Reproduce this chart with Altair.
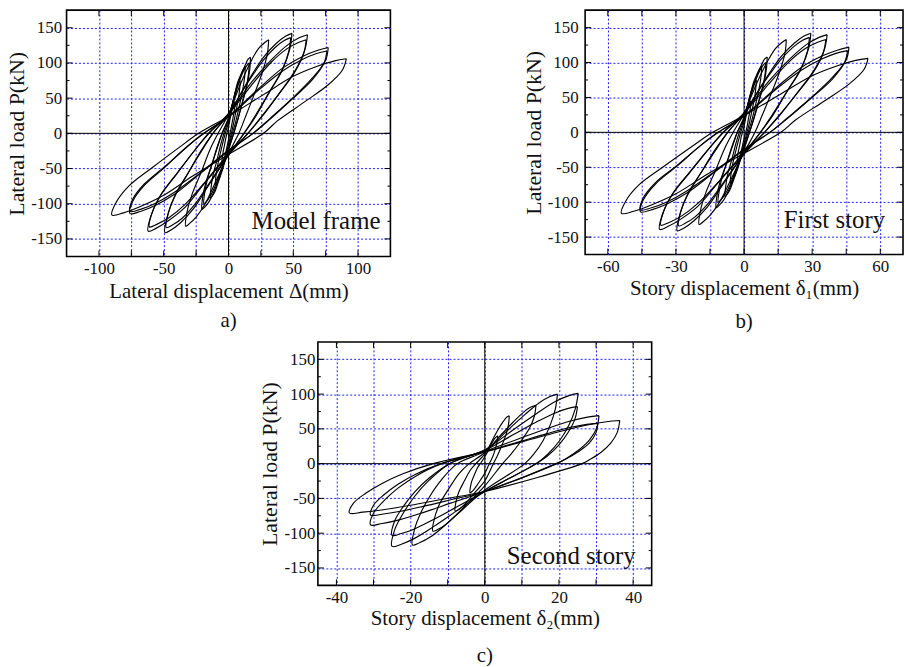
import altair as alt
import pandas as pd

FONT = "Liberation Serif"

# ---------------- panel a: model frame (lateral displacement, mm) ----------------
A_DISP = [
    [5, 4.9, 4.2, 3.2, 2.1, 1.2, 0, -1.5, -2.8, -3.8, -4.5, -5, -4.9, -4.2, -3.2, -2.1, -1.2, 0, 1.5, 2.8, 3.8, 4.5, 5],
    [9, 8.7, 7.6, 5.8, 3.8, 2.2, 0, -3, -5.5, -7.5, -9, -10, -9.7, -8.5, -6.5, -4.2, -2.5, 0, 2.7, 5, 6.8, 8.1, 9],
    [13, 12.5, 11, 8.5, 5.5, 3, 0, -4, -8, -10.5, -12.5, -14, -13.5, -12, -9, -6, -3.5, 0, 4, 7, 10, 11.7, 13],
    [17, 16.5, 14.5, 11, 7, 4, 0, -6, -11, -15, -18.5, -20.5, -20, -17.5, -13, -8.5, -5, 0, 5, 9.5, 13, 15, 17],
    [16, 15.5, 13.6, 10.4, 6.7, 4, 0, -5.7, -10.5, -14.3, -17.1, -19, -18.4, -16.2, -12.4, -8, -4.8, 0, 4.8, 8.8, 12, 14.4, 16],
    [31, 30, 26, 20, 13, 8, 0, -10, -18, -25, -30, -33, -32, -28, -21, -14, -8, 0, 9, 17, 23, 28, 31],
    [49, 47.5, 42, 32, 21, 12, 0, -15, -27, -37, -44, -49, -47.5, -42, -32, -21, -12, 0, 15, 27, 37, 44, 49],
    [48, 46.5, 41, 31, 20, 12, 0, -14.5, -26.5, -36, -43, -48, -46.5, -41, -31, -20, -12, 0, 14.5, 26.5, 36, 43, 48],
    [61, 59, 52, 40, 26, 15, 0, -19, -34, -47, -56, -62, -60, -53, -40, -26, -15.5, 0, 18, 34, 46, 55, 61],
    [60, 58, 51, 39, 25, 15, 0, -18, -33.5, -46, -55, -61, -59, -52, -39.5, -25.5, -15, 0, 18, 33, 45, 54, 60],
    [77, 75, 65, 50, 32, 19, 0, -23, -42, -57, -68, -76, -74, -65, -49, -32, -19, 0, 23, 42, 58, 69, 77],
    [76, 73.7, 64.6, 49.4, 32, 19, 0, -23, -42, -57, -68, -76, -74, -65, -49, -32, -19, 0, 23, 42, 57, 68, 76],
    [91, 88, 77, 59, 38, 27, 0, -27, -50, -68, -81, -90, -87, -77, -59, -38, -23, 0, 27, 50, 68, 82, 91],
]
# lateral load (kN), shared by panels a and b
LOAD_AB = [
    [45, 38, 29, 19, 7.7, 0, -9, -22, -32, -38, -41, -42, -36, -27, -18, -7, 0, 9, 23, 34, 40.5, 43.5, 45],
    [75, 64, 49, 31.5, 13, 0, -16, -37, -55, -65, -70, -72, -61, -47, -30, -12, 0, 15, 39, 57, 67.5, 73, 75],
    [95, 81, 62, 40, 16, 0, -20, -48, -70, -83, -89, -92, -78, -60, -39, -16, 0, 19, 49, 72, 85.5, 92, 95],
    [108, 92, 70, 45, 18, 0, -24, -56, -82, -97, -105, -108, -92, -70, -45, -18, 0, 22, 56, 82, 97, 105, 108],
    [100, 85, 65, 42, 17, 0, -22, -52, -76, -90, -97, -100, -85, -65, -42, -17, 0, 20, 52, 76, 90, 97, 100],
    [133, 113, 86, 56, 23, 0, -29, -69, -100, -119, -128, -132, -112, -86, -55, -22, 0, 27, 69, 101, 120, 129, 133],
    [142, 121, 92, 60, 24, 0, -31, -73, -107, -127, -137, -141, -120, -92, -59, -24, 0, 28, 74, 108, 128, 138, 142],
    [136, 116, 88, 57, 23, 0, -30, -70, -102, -121, -130, -134, -114, -87, -56, -23, 0, 27, 71, 103, 122, 132, 136],
    [140, 119, 91, 59, 24, 0, -31, -72, -106, -125, -135, -139, -118, -90, -58, -24, 0, 28, 73, 106, 126, 136, 140],
    [133, 113, 86.5, 56, 22.6, 0, -29, -69, -101, -120, -129, -133, -113, -86.5, -56, -22.6, 0, 27, 69, 101, 120, 129, 133],
    [122, 104, 79, 51, 21, 0, -25, -59, -87, -103, -111, -114, -97, -74, -48, -19, 0, 24, 63, 93, 110, 118, 122],
    [117, 99.5, 76, 49, 20, 0, -24, -58, -84, -100, -108, -111, -94, -72, -47, -19, 0, 23, 61, 89, 105, 113.5, 117],
    [106, 90, 69, 45, 18, 0, -30, -60, -88, -104, -113, -116, -99, -75, -49, -20, 0, 24, 55, 81, 95, 103, 106],
]

# ---------------- panel b: first story displacement (mm) ----------------
B_DISP = [
    [3, 2.9, 2.5, 1.9, 1.3, 0.7, 0, -0.9, -1.7, -2.3, -2.7, -3, -2.9, -2.5, -1.9, -1.3, -0.7, 0, 0.9, 1.7, 2.3, 2.7, 3],
    [5.4, 5.2, 4.6, 3.5, 2.3, 1.3, 0, -1.8, -3.3, -4.5, -5.4, -6, -5.8, -5.1, -3.9, -2.5, -1.5, 0, 1.6, 3, 4.1, 4.9, 5.4],
    [7.8, 7.5, 6.6, 5.1, 3.3, 1.8, 0, -2.4, -4.8, -6.3, -7.5, -8.4, -8.1, -7.2, -5.4, -3.6, -2.1, 0, 2.4, 4.2, 6, 7, 7.8],
    [10.2, 9.9, 8.7, 6.6, 4.2, 2.4, 0, -3.6, -6.6, -9, -11.1, -12.3, -12, -10.5, -7.8, -5.1, -3, 0, 3, 5.7, 7.8, 9, 10.2],
    [9.6, 9.3, 8.2, 6.2, 4, 2.4, 0, -3.4, -6.3, -8.6, -10.3, -11.4, -11, -9.7, -7.4, -4.8, -2.9, 0, 2.9, 5.3, 7.2, 8.6, 9.6],
    [18.6, 18, 15.6, 12, 7.8, 4.8, 0, -6, -10.8, -15, -18, -19.8, -19.2, -16.8, -12.6, -8.4, -4.8, 0, 5.4, 10.2, 13.8, 16.8, 18.6],
    [29.4, 28.5, 25.2, 19.2, 12.6, 7.2, 0, -9, -16.2, -22.2, -26.4, -29.4, -28.5, -25.2, -19.2, -12.6, -7.2, 0, 9, 16.2, 22.2, 26.4, 29.4],
    [28.8, 27.9, 24.6, 18.6, 12, 7.2, 0, -8.7, -15.9, -21.6, -25.8, -28.8, -27.9, -24.6, -18.6, -12, -7.2, 0, 8.7, 15.9, 21.6, 25.8, 28.8],
    [36.6, 35.4, 31.2, 24, 15.6, 9, 0, -11.4, -20.4, -28.2, -33.6, -37.2, -36, -31.8, -24, -15.6, -9.3, 0, 10.8, 20.4, 27.6, 33, 36.6],
    [36, 34.8, 30.6, 23.4, 15, 9, 0, -10.8, -20.1, -27.6, -33, -36.6, -35.4, -31.2, -23.7, -15.3, -9, 0, 10.8, 19.8, 27, 32.4, 36],
    [46.2, 45, 39, 30, 19.2, 11.4, 0, -13.8, -25.2, -34.2, -40.8, -45.6, -44.4, -39, -29.4, -19.2, -11.4, 0, 13.8, 25.2, 34.8, 41.4, 46.2],
    [45.6, 44.2, 38.8, 29.6, 19.2, 11.4, 0, -13.8, -25.2, -34.2, -40.8, -45.6, -44.4, -39, -29.4, -19.2, -11.4, 0, 13.8, 25.2, 34.2, 40.8, 45.6],
    [54.6, 52.8, 46.2, 35.4, 22.8, 16.2, 0, -16.2, -30, -40.8, -48.6, -54, -52.2, -46.2, -35.4, -22.8, -13.8, 0, 16.2, 30, 40.8, 49.2, 54.6],
]

# ---------------- panel c: second story ----------------
C_DISP = [
    [3.5, 3.4, 3, 2.5, 1.8, 1.2, 0, -1.2, -2.2, -3, -3.6, -4, -3.9, -3.5, -2.8, -2, -1.2, 0, 1.1, 1.9, 2.6, 3.2, 3.5],
    [6.6, 6.4, 5.7, 4.6, 3.3, 2.3, 0, -2.4, -4.4, -6, -7.2, -8, -7.8, -7, -5.6, -4, -2.4, 0, 2, 3.6, 5, 5.9, 6.6],
    [13.8, 13.4, 12, 9.7, 6.9, 4.8, 0, -4.2, -7.7, -10.5, -12.6, -14, -13.6, -12.2, -9.8, -7, -4.2, 0, 4.1, 7.6, 10.4, 12.4, 13.8],
    [19.6, 19, 17.6, 15.7, 13.1, 10.8, 0, -5.9, -10.7, -14.6, -17.6, -19.5, -18.9, -17.2, -14.8, -11.7, -7.4, 0, 5.9, 10.8, 14.7, 17.6, 19.6],
    [25, 24.3, 22.5, 20, 16.8, 13.8, 0, -7.5, -13.8, -18.8, -22.5, -25, -24.3, -22, -19, -15, -9.5, 0, 7.5, 13.8, 18.8, 22.5, 25],
    [25.2, 24.4, 22.7, 20.2, 16.9, 13.9, 0, -7.5, -13.8, -18.8, -22.5, -25, -24.3, -22, -19, -15, -9.5, 0, 7.6, 13.9, 18.9, 22.7, 25.2],
    [30.5, 29.9, 28.1, 25.3, 22, 19.2, 0, -9.2, -16.9, -23.1, -27.7, -30.8, -29.9, -27.1, -23.4, -18.5, -11.7, 0, 9.2, 16.8, 22.9, 27.5, 30.5],
    [30.8, 30.2, 28.3, 25.6, 22.2, 19.4, 0, -9.2, -16.9, -23.1, -27.7, -30.8, -29.9, -27.1, -23.4, -18.5, -11.7, 0, 9.2, 16.9, 23.1, 27.7, 30.8],
    [36.4, 35.7, 33.9, 31.3, 28.4, 26.2, 0, -11, -20.1, -27.4, -32.9, -36.5, -35.4, -32.1, -27.7, -21.9, -13.9, 0, 10.9, 20, 27.3, 32.8, 36.4],
]
C_LOAD = [
    [40, 32.8, 24, 15.2, 6, 0, -14, -23.8, -31.9, -37.8, -40.9, -42, -34.4, -25.2, -16, -6.3, 0, 10, 20.5, 29.2, 35.5, 38.8, 40],
    [69, 56.6, 41.4, 26.2, 10.4, 0, -25, -40, -52.5, -61.5, -66.3, -68, -55.8, -40.8, -25.8, -10.2, 0, 14, 33.3, 49.2, 60.7, 66.8, 69],
    [84, 68.9, 50.4, 31.9, 12.6, 0, -32, -54.8, -73.6, -87.3, -94.4, -97, -79.5, -58.2, -36.9, -14.6, 0, 16, 39.8, 59.5, 73.8, 81.3, 84],
    [100, 78, 55, 33, 13, 0, -38, -65.6, -88.6, -105.2, -113.8, -117, -93.6, -70.2, -46.8, -23.4, 0, 18, 46.7, 70.5, 87.7, 96.7, 100],
    [82, 64, 45.1, 27.1, 10.7, 0, -40, -62, -80.3, -93.5, -100.5, -103, -82.4, -61.8, -41.2, -20.6, 0, 19, 41.1, 59.4, 72.6, 79.5, 82],
    [101, 78.8, 55.6, 33.3, 13.1, 0, -40, -67.6, -90.6, -107.1, -115.8, -119, -95.2, -71.4, -47.6, -23.8, 0, 20, 48.4, 71.8, 88.9, 97.8, 101],
    [58, 43.5, 29, 17.4, 7, 0, -40, -52, -61.8, -68.9, -72.7, -74, -59.2, -44.4, -29.6, -14.8, 0, 17, 31.3, 43.2, 51.9, 56.4, 58],
    [69, 51.8, 34.5, 20.7, 8.3, 0, -40, -56.8, -70.8, -80.8, -86.1, -88, -70.4, -52.8, -35.2, -17.6, 0, 18, 35.9, 50.6, 61.3, 66.9, 69],
    [62, 44.6, 29.1, 16.1, 6.2, 0, -40, -50.8, -59.9, -66.3, -69.8, -71, -56.8, -42.6, -28.4, -14.2, 0, 17, 32.7, 45.8, 55.2, 60.2, 62],
]

# axis tick / grid values
A_XGRID = [-100, -75, -50, -25, 0, 25, 50, 75, 100]
B_XGRID = [-60, -45, -30, -15, 0, 15, 30, 45, 60]
C_XGRID = [-40, -30, -20, -10, 0, 10, 20, 30, 40]
Y_MAJOR = [-150, -100, -50, 0, 50, 100, 150]
Y_MINOR = [-125, -75, -25, 25, 75, 125]


def loops_df(disp, load):
    rows = []
    for k, (ds, ps) in enumerate(zip(disp, load)):
        for i, (d, p) in enumerate(zip(ds, ps)):
            rows.append({"cycle": k, "i": i, "d": d, "p": p})
    return pd.DataFrame(rows)


def minus_expr(step):
    return (f"datum.value % {step} === 0 ? ((datum.value < 0 ? '-' : '') + abs(datum.value)) : ''")


def panel(df, xdom, xgrid, step, W, H, xtitle, tag, tag_y, note, note_x, note_y,
          lab_pad, ytitle_pad, xtitle_pad):
    xs = alt.Scale(domain=xdom, nice=False, zero=False)
    ys = alt.Scale(domain=[-175, 175], nice=False, zero=False)
    xaxis = alt.Axis(values=xgrid, grid=True, gridColor="#1f1fff", gridDash=[2, 2],
                     gridWidth=1, ticks=False, domain=False,
                     labelExpr=minus_expr(step), labelFont=FONT, labelFontSize=17,
                     labelColor="#111111", labelPadding=4, labelFlush=False,
                     title=xtitle, titleFont=FONT, titleFontSize=21,
                     titleFontWeight="normal", titleColor="#111111",
                     titlePadding=xtitle_pad)
    yaxis = alt.Axis(values=Y_MAJOR, grid=True, gridColor="#1f1fff", gridDash=[2, 2],
                     gridWidth=1, ticks=False, domain=False,
                     labelExpr=minus_expr(50), labelFont=FONT, labelFontSize=17,
                     labelColor="#111111", labelPadding=lab_pad, labelFlush=False,
                     title="Lateral load P(kN)", titleFont=FONT, titleFontSize=22,
                     titleFontWeight="normal", titleColor="#111111",
                     titlePadding=ytitle_pad)
    X = alt.X("d:Q", scale=xs, axis=xaxis)
    Y = alt.Y("p:Q", scale=ys, axis=yaxis)

    zero_v = alt.Chart(pd.DataFrame({"d": [0]})).mark_rule(color="black", strokeWidth=1).encode(x=X)
    zero_h = alt.Chart(pd.DataFrame({"p": [0]})).mark_rule(color="black", strokeWidth=1).encode(y=Y)

    xt = pd.DataFrame({"d": xgrid})
    ymaj = pd.DataFrame({"p": Y_MAJOR})
    ymin = pd.DataFrame({"p": Y_MINOR})
    tick = dict(color="black", strokeWidth=1)
    t_bottom = alt.Chart(xt).mark_rule(**tick).encode(x=X, y=alt.value(H), y2=alt.value(H - 6))
    t_top = alt.Chart(xt).mark_rule(**tick).encode(x=X, y=alt.value(0), y2=alt.value(6))
    t_left = alt.Chart(ymaj).mark_rule(**tick).encode(y=Y, x=alt.value(0), x2=alt.value(6))
    t_right = alt.Chart(ymaj).mark_rule(**tick).encode(y=Y, x=alt.value(W), x2=alt.value(W - 6))
    m_left = alt.Chart(ymin).mark_rule(**tick).encode(y=Y, x=alt.value(0), x2=alt.value(3))
    m_right = alt.Chart(ymin).mark_rule(**tick).encode(y=Y, x=alt.value(W), x2=alt.value(W - 3))

    lines = alt.Chart(df).mark_line(color="black", strokeWidth=1.15,
                                    interpolate="catmull-rom").encode(
        x=X, y=Y, detail="cycle:N", order="i:Q")

    txt = alt.Chart(pd.DataFrame({"t": [note]})).mark_text(
        font=FONT, fontSize=25, align="right", baseline="alphabetic", color="#111111"
    ).encode(text="t:N", x=alt.value(note_x), y=alt.value(note_y))

    tag_txt = alt.Chart(pd.DataFrame({"t": [tag]})).mark_text(
        font=FONT, fontSize=21, align="center", baseline="middle", color="#111111"
    ).encode(text="t:N", x=alt.value(W / 2), y=alt.value(tag_y))

    return alt.layer(zero_v, zero_h, t_bottom, t_top, t_left, t_right, m_left, m_right,
                     lines, txt, tag_txt).properties(width=W, height=H)


pa = panel(loops_df(A_DISP, LOAD_AB), [-125, 125], A_XGRID, 50, 326, 248,
           "Lateral displacement \u0394(mm)", "a)", 313, "Model frame", 316, 220, 5, 2, 4)
pb = panel(loops_df(B_DISP, LOAD_AB), [-70, 70], B_XGRID, 30, 320, 246,
           "Story displacement \u03b4\u2081(mm)", "b)", 314, "First story", 302, 219, 7, 2, 3)
pc = panel(loops_df(C_DISP, C_LOAD), [-45, 45], C_XGRID, 20, 336, 245,
           "Story displacement \u03b4\u2082(mm)", "c)", 316, "Second story", 320, 224, 3, 2, 2)

spacer = alt.Chart(pd.DataFrame({"d": [0]})).mark_point(opacity=0).encode(
    x=alt.X("d:Q", axis=None), y=alt.Y("d:Q", axis=None)
).properties(width=192, height=10, view=alt.ViewBackground(stroke="transparent"))

row1 = alt.hconcat(pa, pb, spacing=130)
row2 = alt.hconcat(spacer, pc, spacing=0)
chart = alt.vconcat(row1, row2, spacing=7).properties(
    padding={"left": 5, "top": 6, "right": 0, "bottom": 0}
).configure(background="white").configure_view(stroke="black", strokeWidth=1.6)

chart.save("out.html", embed_options={"renderer": "svg", "actions": False})
